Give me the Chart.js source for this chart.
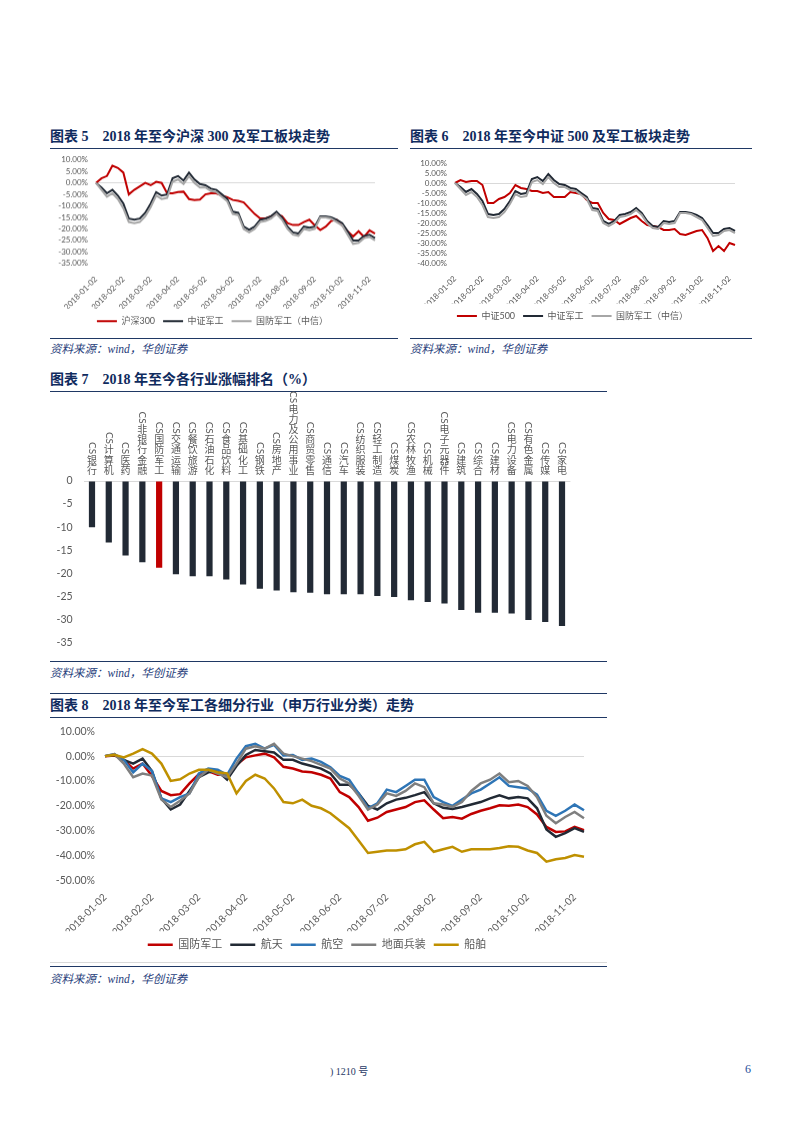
<!DOCTYPE html>
<html lang="zh-CN">
<head>
<meta charset="utf-8">
<script src="https://cdn.jsdelivr.net/npm/chart.js@4.4.1/dist/chart.umd.min.js"></script>
<style>
  body { margin: 0; background: #fff; }
  .page { position: relative; width: 793px; height: 1122px; overflow: hidden; background: #fff; }
  .title { position: absolute; font-family: "Liberation Serif", "Noto Sans CJK SC", serif; font-weight: bold; font-size: 14px; line-height: 18px; color: #0f2b5e; white-space: nowrap; }
  .rule { position: absolute; height: 0; border-top: 1.5px solid #1f3864; }
  .src { position: absolute; font-family: "Liberation Serif", "Noto Sans CJK SC", serif; font-style: italic; font-size: 11.5px; line-height: 14px; color: #1f3d7a; white-space: nowrap; }
  .box { position: absolute; }
  .foot { position: absolute; font-family: "Liberation Serif", "Noto Sans CJK SC", serif; color: #1f3864; white-space: nowrap; }
</style>
</head>
<body>
<div class="page">
  <!-- 图表5 -->
  <div class="title" style="left:50px; top:128px;">图表 5　2018 年至今沪深 300 及军工板块走势</div>
  <div class="rule" style="left:50px; top:148px; width:348px;"></div>
  <div class="box" style="left:50px; top:147.2px; width:348px; height:187.8px;"><canvas id="c5"></canvas></div>
  <div class="rule" style="left:50px; top:338px; width:348px;"></div>
  <div class="src" style="left:50px; top:342px;">资料来源：wind，华创证券</div>

  <!-- 图表6 -->
  <div class="title" style="left:410px; top:128px;">图表 6　2018 年至今中证 500 及军工板块走势</div>
  <div class="rule" style="left:410px; top:148px; width:342px;"></div>
  <div class="box" style="left:410px; top:150px; width:342px; height:185px;"><canvas id="c6"></canvas></div>
  <div class="rule" style="left:410px; top:338px; width:342px;"></div>
  <div class="src" style="left:410px; top:342px;">资料来源：wind，华创证券</div>

  <!-- 图表7 -->
  <div class="title" style="left:50px; top:371px;">图表 7　2018 年至今各行业涨幅排名（%）</div>
  <div class="rule" style="left:50px; top:391px; width:557px;"></div>
  <div class="box" style="left:50px; top:390px; width:557px; height:270px;"><canvas id="c7"></canvas></div>
  <div class="rule" style="left:50px; top:661px; width:557px;"></div>
  <div class="src" style="left:50px; top:666px;">资料来源：wind，华创证券</div>

  <!-- 图表8 -->
  <div class="rule" style="left:50px; top:693px; width:557px; border-top-width:1px;"></div>
  <div class="title" style="left:50px; top:697px;">图表 8　2018 年至今军工各细分行业（申万行业分类）走势</div>
  <div class="rule" style="left:50px; top:717px; width:557px;"></div>
  <div class="box" style="left:50px; top:714.7px; width:557px; height:245.3px;"><canvas id="c8"></canvas></div>
  <div class="rule" style="left:50px; top:962px; width:557px; border-top:1px solid #d9d9d9;"></div>
  <div class="rule" style="left:50px; top:966px; width:557px;"></div>
  <div class="src" style="left:50px; top:972px;">资料来源：wind，华创证券</div>

  <div class="foot" style="left:330px; top:1063px; font-size:10px;">) 1210 号</div>
  <div class="foot" style="left:745px; top:1062px; font-size:12px; color:#1f4e9a;">6</div>
</div>

<script>
// 日期（每月5个点，月初为“-02”）
const dates = [
  '2018-01-02','2018-01-08','2018-01-14','2018-01-20','2018-01-26',
  '2018-02-02','2018-02-08','2018-02-14','2018-02-20','2018-02-26',
  '2018-03-02','2018-03-08','2018-03-14','2018-03-20','2018-03-26',
  '2018-04-02','2018-04-08','2018-04-14','2018-04-20','2018-04-26',
  '2018-05-02','2018-05-08','2018-05-14','2018-05-20','2018-05-26',
  '2018-06-02','2018-06-08','2018-06-14','2018-06-20','2018-06-26',
  '2018-07-02','2018-07-08','2018-07-14','2018-07-20','2018-07-26',
  '2018-08-02','2018-08-08','2018-08-14','2018-08-20','2018-08-26',
  '2018-09-02','2018-09-08','2018-09-14','2018-09-20','2018-09-26',
  '2018-10-02','2018-10-08','2018-10-14','2018-10-20','2018-10-26',
  '2018-11-02','2018-11-07'
];

// 图表5/6 (%)
const hs300 = [0, 2, 3, 7.5, 6.5, 4.5, -5, -3, -1.5, 0, -1, 0.5, 0, -4.5, -4.5, -4, -3.8, -7, -7.4, -7.2,
  -5, -4.5, -4.5, -5.5, -6.2, -7.4, -7.8, -8.5, -11, -13.5, -15.4, -15.4, -14.5, -13.5, -14.5, -17.5, -18.3, -18.3, -17, -16,
  -18.5, -20.5, -19, -16.5, -16, -18.5, -21, -23.3, -21, -23.5, -20.6, -22];
const zz500 = [0, 1.5, 0.5, 1, 1, -1, -10, -10, -8, -7, -5, -1, -2.5, -3, -4, -4, -5, -4.5, -7, -7,
  -7, -4.5, -5, -5.5, -8.5, -10, -10, -15, -18, -18.5, -20.5, -19, -17.5, -16.5, -19, -21, -21.5, -22, -23.5, -23.5,
  -23, -25.5, -26, -25, -24, -23.5, -27.6, -34, -31.5, -34, -30, -31];
const zzjg = [0, -2, -4.5, -3, -5.5, -9, -15.5, -16, -15.5, -13, -9, -4, -5.5, -5, 2, 3, 1, 4.5, 1.5, -0.5,
  -1, -2.5, -3, -5, -7, -12.5, -13, -19, -20.4, -19, -16, -15.5, -14.5, -12.5, -15, -19, -21.5, -22, -19, -19.5,
  -19, -14.5, -14.5, -15, -16, -17.5, -21, -25, -25, -23, -22.5, -24];
const gfjgZx = [0, -3, -6, -4.5, -7, -11, -17, -17.5, -17, -14.5, -10.5, -5.5, -7, -6.5, 0.5, 1.5, -0.5, 3, 0, -2,
  -2, -3.5, -4, -6, -8, -13.5, -14, -20, -21.5, -20, -17, -16.5, -15.5, -13.5, -16, -20, -22.5, -23, -20, -20.5,
  -20, -15, -15, -15.5, -17, -18.5, -22.5, -26.5, -26, -24, -23.5, -25];

// 图表7 (%)
const industries = ['CS银行','CS计算机','CS医药','CS非银行金融','CS国防军工','CS交通运输','CS餐饮旅游','CS石油石化',
  'CS食品饮料','CS基础化工','CS钢铁','CS房地产','CS电力及公用事业','CS商贸零售','CS通信','CS汽车','CS纺织服装',
  'CS轻工制造','CS煤炭','CS农林牧渔','CS机械','CS电子元器件','CS建筑','CS综合','CS建材','CS电力设备','CS有色金属',
  'CS传媒','CS家电'];
const industryChg = [-10.0, -13.3, -16.1, -17.6, -18.8, -20.2, -20.6, -20.6, -21.3, -22.4, -23.3, -23.7, -24.1, -24.2,
  -24.5, -24.5, -24.5, -24.9, -25.1, -25.8, -26.2, -26.5, -27.9, -28.5, -28.5, -28.7, -30.1, -30.5, -31.4];

// 图表8 (%)
const gfjgSw = [0, 0.3, -1.5, -5, -3, -8, -14, -15.7, -15.3, -11, -7.2, -6, -7.5, -7.5, -3.5, -0.5, 0.3, 1, -0.5, -4.3,
  -5, -6.2, -6.5, -7.5, -9, -14.5, -16.5, -20.5, -26, -24.8, -22.5, -21.5, -20.5, -18.5, -17.8, -21.5, -25, -24.5, -25.2, -23.3,
  -22, -21, -19.8, -20, -19.5, -20.5, -23.5, -28.5, -30.5, -30.3, -28.5, -29.8];
const hangtian = [0, 0.5, -1.5, -3, -1, -6, -17, -21.5, -19.5, -14, -8.5, -6.5, -6, -9.5, -4, 0.5, 2.5, 2, 1.5, -1.5,
  -1.5, -3, -4, -5, -7, -11.5, -11.5, -15, -20, -21.5, -19, -17.5, -16.8, -15.7, -14.5, -19, -20.8, -21.3, -20.5, -19.5,
  -18.5, -17, -15.8, -17, -16.5, -17, -21, -29.5, -32.5, -31, -29, -30.5];
const hangkong = [0, 0.8, -1.5, -6.5, -3, -6, -17, -18.5, -16.5, -15, -7, -5, -5.5, -7.5, -1, 4, 5, 3, 4.5, 0.3,
  0.5, -1.5, -1, -2.3, -4.5, -8, -9.5, -15, -21, -19, -13.5, -14.5, -12, -9.5, -9.5, -16.5, -18.5, -20, -17.5, -15,
  -13.5, -11, -8.5, -12, -12.5, -13, -15.5, -22, -24, -22, -19.5, -21.8];
const dmbz = [0, 0.8, -3, -8.5, -7, -7.8, -17.5, -20.5, -18, -15, -8.5, -5.5, -7, -8.5, -3, 3, 4, 3, 5, 1,
  0, -1, -2, -3.5, -5, -9, -11, -16, -21.5, -19.5, -15, -16, -14, -11, -12.5, -19, -19.5, -20.5, -18.5, -14,
  -11, -9.5, -7, -10.5, -10, -12, -16.5, -24, -27, -24.5, -22.5, -25];
const chuanbo = [0, 0.5, -0.5, 1, 2.8, 1, -3, -10, -9.3, -7, -5.5, -5.5, -6.5, -7, -15, -10, -7.5, -9, -13, -18.5,
  -19, -17.5, -20, -21, -23, -26, -29, -34, -39, -38.5, -38, -38, -37.5, -35.5, -34.5, -38.5, -37.5, -36.5, -38.5, -37.5,
  -37.5, -37.5, -37, -36.3, -36.5, -38, -39, -42.5, -41.5, -41, -39.8, -40.5];

Chart.defaults.font.family = 'Lato, "Noto Sans CJK SC", sans-serif';
Chart.defaults.color = '#595959';
Chart.defaults.animation = false;

// 只保留0轴那条网格线
const zeroGrid = c => (c.tick && c.tick.value === 0) ? '#d9d9d9' : 'rgba(0,0,0,0)';

// 折线图通用
function lineChart(id, series, o) {
  return new Chart(document.getElementById(id), {
    type: 'line',
    data: {
      labels: dates,
      datasets: series.map((s, i) => ({
        label: s.label, data: s.data, borderColor: s.color, backgroundColor: s.color,
        borderWidth: o.lw, pointRadius: 0, tension: 0, order: -i
      }))
    },
    options: {
      responsive: true, maintainAspectRatio: false,
      layout: { padding: o.pad },
      plugins: {
        tooltip: { enabled: false },
        legend: {
          position: 'bottom',
          labels: {
            usePointStyle: true, pointStyle: 'line', pointStyleWidth: o.legW,
            font: { size: o.legFont }, color: '#595959', padding: o.legPad,
            sort: (a, b) => a.datasetIndex - b.datasetIndex
          }
        }
      },
      scales: {
        x: {
          grid: { display: false }, border: { display: false },
          ticks: {
            autoSkip: false, maxRotation: 45, minRotation: 45, padding: 3,
            font: { size: o.xFont }, color: '#595959',
            callback(v) { const l = this.getLabelForValue(v); return l.endsWith('-02') ? l : ''; }
          },
          afterFit(s) { s.height = o.xH; }
        },
        y: {
          min: o.min, max: o.max,
          ticks: { stepSize: o.step, autoSkip: false, padding: o.yPad, font: { size: o.yFont }, color: '#595959',
            callback: v => v.toFixed(2) + '%' },
          grid: { drawTicks: false, color: zeroGrid },
          border: { display: false },
          afterFit(s) { s.width = o.yW; }
        }
      }
    }
  });
}

lineChart('c5', [
  { label: '沪深300', data: hs300, color: '#c00000' },
  { label: '中证军工', data: zzjg, color: '#222a35' },
  { label: '国防军工（中信）', data: gfjgZx, color: '#a6a6a6' }
], { lw: 2, pad: { top: 10, right: 23, left: 0, bottom: 0 }, legW: 20, legFont: 9, legPad: 8,
     xFont: 8, xH: 45, yFont: 8, yW: 46, yPad: 8, min: -35, max: 10, step: 5 });

lineChart('c6', [
  { label: '中证500', data: zz500, color: '#c00000' },
  { label: '中证军工', data: zzjg, color: '#222a35' },
  { label: '国防军工（中信）', data: gfjgZx, color: '#a6a6a6' }
], { lw: 2, pad: { top: 13, right: 17, left: 0, bottom: 4.5 }, legW: 20, legFont: 9, legPad: 8,
     xFont: 8, xH: 40.5, yFont: 8, yW: 45, yPad: 8, min: -40, max: 10, step: 5 });

lineChart('c8', [
  { label: '国防军工', data: gfjgSw, color: '#c00000' },
  { label: '航天', data: hangtian, color: '#222a35' },
  { label: '航空', data: hangkong, color: '#2e75b6' },
  { label: '地面兵装', data: dmbz, color: '#7f7f7f' },
  { label: '船舶', data: chuanbo, color: '#bf9000' }
], { lw: 2.5, pad: { top: 11, right: 23, left: 0, bottom: 0 }, legW: 25, legFont: 11, legPad: 8,
     xFont: 10, xH: 51, yFont: 10.5, yW: 55, yPad: 10, min: -50, max: 10, step: 10 });

// 图表7 竖排行业名（CS 横躺，汉字直排）
const verticalLabels = {
  id: 'verticalLabels',
  afterDraw(chart) {
    const { ctx, chartArea } = chart;
    const x = chart.scales.x;
    const step = 10.2;
    ctx.save();
    ctx.fillStyle = '#595959';
    ctx.textAlign = 'center';
    ctx.textBaseline = 'middle';
    industries.forEach((name, i) => {
      const px = x.getPixelForValue(i);
      const chars = Array.from(name.slice(2));
      ctx.font = '10px "Noto Sans CJK SC"';
      let y = chartArea.top - 11;
      for (let k = chars.length - 1; k >= 0; k--) {
        ctx.fillText(chars[k], px, y);
        y -= step;
      }
      ctx.font = '10px Lato';
      const w = ctx.measureText('CS').width;
      ctx.save();
      ctx.translate(px, y + step / 2 - w - 0.5);
      ctx.rotate(Math.PI / 2);
      ctx.textAlign = 'left';
      ctx.fillText('CS', 0, 0);
      ctx.restore();
    });
    ctx.restore();
  }
};

new Chart(document.getElementById('c7'), {
  type: 'bar',
  data: {
    labels: industries,
    datasets: [{
      data: industryChg,
      backgroundColor: industries.map(n => n === 'CS国防军工' ? '#c00000' : '#222a35'),
      barPercentage: 0.37, categoryPercentage: 1
    }]
  },
  options: {
    responsive: true, maintainAspectRatio: false,
    layout: { padding: { top: 91, right: 36.6, left: 0, bottom: 8 } },
    plugins: { legend: { display: false }, tooltip: { enabled: false } },
    scales: {
      x: { display: false },
      y: {
        min: -35, max: 0,
        ticks: { stepSize: 5, autoSkip: false, padding: 11, font: { size: 10.5 }, color: '#595959' },
        grid: { drawTicks: false, color: zeroGrid },
        border: { display: false },
        afterFit(s) { s.width = 33.6; }
      }
    }
  },
  plugins: [verticalLabels]
});
</script>
</body>
</html>
